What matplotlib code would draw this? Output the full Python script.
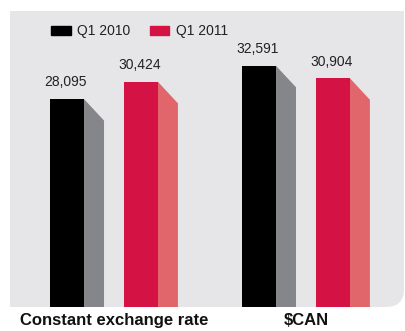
import matplotlib
matplotlib.use("Agg")
import matplotlib.pyplot as plt
from matplotlib.patches import Polygon, Rectangle, FancyBboxPatch, Patch

plt.rcParams['font.family'] = ['Liberation Sans', 'DejaVu Sans']

# data
categories = ["Constant exchange rate", "$CAN"]
series_names = ["Q1 2010", "Q1 2011"]
q1_2010 = [28095, 32591]
q1_2011 = [30424, 30904]
value_labels_2010 = ["28,095", "32,591"]
value_labels_2011 = ["30,424", "30,904"]

# styles
FRONT = ["#000000", "#d41244"]
SIDE = ["#858689", "#e0666c"]
PANEL = "#e6e6e8"
BAR_W = 0.177
SIDE_W = 0.104
OFFSETS = [-0.333, 0.052]
YMAX = 40000
DEPTH = 2900

fig = plt.figure(figsize=(4.06, 3.31), dpi=100)
fig.patch.set_facecolor("white")

# grey panel with rounded bottom-right corner (inches)
x0, y0, w, h, r = 0.10, 0.24, 4.5, 2.96, 0.18
fig.patches.append(FancyBboxPatch((x0, y0), 4.04 - x0, h,
                                  boxstyle="round,pad=0,rounding_size=%s" % r,
                                  transform=fig.dpi_scale_trans, fc=PANEL, ec="none", zorder=-2))
fig.patches.append(Rectangle((x0, y0 + r), 4.04 - x0, h - r, transform=fig.dpi_scale_trans,
                             fc=PANEL, ec="none", zorder=-2))
fig.patches.append(Rectangle((x0, y0), 4.04 - x0 - r, h, transform=fig.dpi_scale_trans,
                             fc=PANEL, ec="none", zorder=-2))

ax = fig.add_axes([10 / 406, 24 / 331, 396 / 406, 296 / 331])
ax.set_facecolor("none")
ax.set_xlim(-0.5417, 1.521)
ax.set_ylim(0, YMAX)

for s, (vals, labels) in enumerate([(q1_2010, value_labels_2010), (q1_2011, value_labels_2011)]):
    for i, v in enumerate(vals):
        left = i + OFFSETS[s]
        right = left + BAR_W
        ax.bar(left, v, width=BAR_W, align="edge", color=FRONT[s], zorder=3)
        side = Polygon([(right, 0), (right, v), (right + SIDE_W, v - DEPTH), (right + SIDE_W, 0)],
                       closed=True, fc=SIDE[s], ec="none", zorder=2)
        ax.add_patch(side)
        ax.annotate(labels[i], xy=(left + BAR_W / 2, v), xytext=(-1, 7),
                    textcoords="offset points", ha="center", va="bottom",
                    fontsize=10, color="#222222")

ax.set_xticks(range(len(categories)))
ax.set_xticklabels(categories, fontsize=12, fontweight="bold", color="#111111")
ax.tick_params(axis="x", length=0, pad=4)
ax.set_yticks([])
for sp in ax.spines.values():
    sp.set_visible(False)

handles = [Patch(color=FRONT[k], label=series_names[k]) for k in range(2)]
ax.legend(handles=handles, ncol=2, frameon=False, loc="upper left",
          bbox_to_anchor=(39 / 406, 1 - 12 / 331), bbox_transform=fig.transFigure,
          fontsize=10, handlelength=1.4, handleheight=0.55, handletextpad=0.45,
          columnspacing=1.4, labelcolor="#222222")

fig.savefig("out.png", dpi=100)
